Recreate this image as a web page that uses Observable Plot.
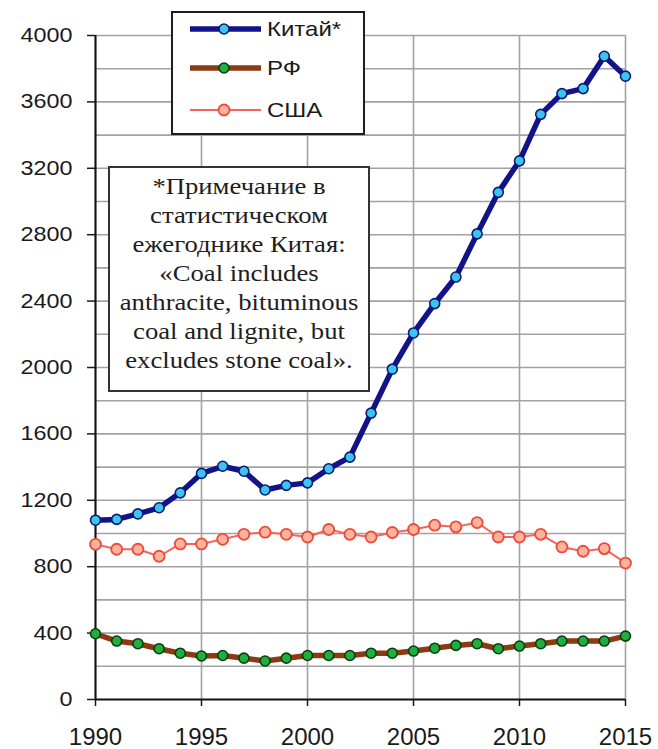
<!DOCTYPE html>
<html>
<head>
<meta charset="utf-8">
<script src="https://cdn.jsdelivr.net/npm/d3@7"></script>
<script src="https://cdn.jsdelivr.net/npm/@observablehq/plot@0.6"></script>
<style>
  body { margin: 0; background: #fff; }
  #wrap { position: relative; width: 658px; height: 749px; font-family: "Liberation Sans", Arial, sans-serif; }
  #legend { position: absolute; left: 171px; top: 11px; }
  #note {
    position: absolute; left: 108px; top: 166px; width: 262px; height: 226px;
    box-sizing: border-box; border: 2px solid #333; background: #fff;
    font-family: "Liberation Serif", "Times New Roman", serif; font-size: 23px; line-height: 29px;
    color: #1e1e1e; text-align: center; padding-top: 4px; overflow: visible;
  }
  #note .inner { white-space: nowrap; transform: scaleX(1.16); transform-origin: center; }
</style>
</head>
<body>
<div id="wrap"></div>
<script>
// ---- data ----
const years  = [1990,1991,1992,1993,1994,1995,1996,1997,1998,1999,2000,2001,2002,2003,2004,2005,2006,2007,2008,2009,2010,2011,2012,2013,2014,2015];
const china  = [1080,1085,1118,1155,1245,1362,1405,1375,1262,1290,1305,1390,1460,1725,1990,2208,2385,2545,2805,3055,3245,3525,3650,3680,3875,3755];
const russia = [396,352,336,306,279,262,265,249,232,249,265,265,265,279,279,292,309,326,336,306,322,336,352,352,352,382];
const usa    = [935,905,905,863,937,937,965,995,1008,995,979,1024,995,979,1006,1024,1050,1040,1066,979,979,995,919,893,909,822];
const seriesNames = ["Китай*", "РФ", "США"];
const yTicks = [0,400,800,1200,1600,2000,2400,2800,3200,3600,4000];
const yGrid  = [200,400,600,800,1000,1200,1400,1600,1800,2000,2200,2400,2600,2800,3000,3200,3400,3600,3800,4000];
const xTicks = [1990,1995,2000,2005,2010,2015];
const noteLines = ["*Примечание в","статистическом","ежегоднике Китая:","«Coal includes","anthracite, bituminous","coal and lignite, but","excludes stone coal»."];

// ---- styles ----
const styles = {
  "Китай*": {line: "#12128a", lw: 5.5, fill: "#3cc3ef", stroke: "#0b1a72", sw: 1.6, r: 5},
  "РФ":     {line: "#8c3a12", lw: 5.5, fill: "#1fae3f", stroke: "#0b3d12", sw: 1.6, r: 5},
  "США":    {line: "#f4645a", lw: 2,   fill: "#ffb29c", stroke: "#ee4a3c", sw: 1.8, r: 5.5}
};

const rows = (vals, name) => years.map((y, i) => ({year: y, value: vals[i], series: name}));
const chinaRows = rows(china, "Китай*");
const russiaRows = rows(russia, "РФ");
const usaRows = rows(usa, "США");

const lineMark = (data, name) => Plot.line(data, {x: "year", y: "value", stroke: styles[name].line, strokeWidth: styles[name].lw, strokeLinejoin: "round", curve: "linear"});
const dotMark = (data, name) => Plot.dot(data, {x: "year", y: "value", r: styles[name].r, fill: styles[name].fill, stroke: styles[name].stroke, strokeWidth: styles[name].sw});

const chart = Plot.plot({
  width: 658,
  height: 749,
  marginLeft: 95,
  marginRight: 33,
  marginTop: 35,
  marginBottom: 50,
  style: {fontFamily: "'Liberation Sans', Arial, sans-serif", background: "transparent", overflow: "visible"},
  x: {domain: [1990, 2015], label: null},
  y: {domain: [0, 4000], label: null},
  marks: [
    Plot.ruleY(yGrid, {stroke: "#a2a2a2", strokeWidth: 1.6}),
    Plot.ruleX(xTicks, {stroke: "#a2a2a2", strokeWidth: 1.6}),
    Plot.axisY(yTicks, {tickSize: 8, tickPadding: 15, fontSize: 20, tickFormat: d => String(d), color: "#1a1a1a", strokeWidth: 1.5}),
    Plot.axisX(xTicks, {tickSize: 7, tickPadding: 21, fontSize: 24, tickFormat: d => String(d), color: "#1a1a1a", strokeWidth: 1.5}),
    Plot.ruleX([1990], {stroke: "#111", strokeWidth: 2}),
    Plot.ruleY([0], {stroke: "#111", strokeWidth: 2}),
    lineMark(usaRows, "США"),
    lineMark(russiaRows, "РФ"),
    lineMark(chinaRows, "Китай*"),
    dotMark(usaRows, "США"),
    dotMark(russiaRows, "РФ"),
    dotMark(chinaRows, "Китай*")
  ]
});
document.getElementById("wrap").appendChild(chart);

// widen the y tick labels horizontally, like the reference
chart.querySelectorAll('g[aria-label="y-axis tick label"] text').forEach(t => {
  const tr = t.getAttribute("transform") || "";
  t.setAttribute("transform", tr + " scale(1.17,1)");
});

// ---- legend ----
const ns = "http://www.w3.org/2000/svg";
const lg = document.createElementNS(ns, "svg");
lg.setAttribute("id", "legend");
lg.setAttribute("width", 195);
lg.setAttribute("height", 125);
const rect = document.createElementNS(ns, "rect");
rect.setAttribute("x", 1); rect.setAttribute("y", 1);
rect.setAttribute("width", 192); rect.setAttribute("height", 122);
rect.setAttribute("fill", "#fff"); rect.setAttribute("stroke", "#1e1e1e"); rect.setAttribute("stroke-width", 2);
lg.appendChild(rect);
const rowY = [18, 57, 99];
seriesNames.forEach((name, i) => {
  const s = styles[name];
  const ln = document.createElementNS(ns, "line");
  ln.setAttribute("x1", 19); ln.setAttribute("x2", 90);
  ln.setAttribute("y1", rowY[i]); ln.setAttribute("y2", rowY[i]);
  ln.setAttribute("stroke", s.line); ln.setAttribute("stroke-width", s.lw);
  lg.appendChild(ln);
  const c = document.createElementNS(ns, "circle");
  c.setAttribute("cx", 53); c.setAttribute("cy", rowY[i]); c.setAttribute("r", s.r);
  c.setAttribute("fill", s.fill); c.setAttribute("stroke", s.stroke); c.setAttribute("stroke-width", s.sw);
  lg.appendChild(c);
  const t = document.createElementNS(ns, "text");
  t.setAttribute("transform", `translate(96,${rowY[i]}) scale(1.2,1)`);
  t.setAttribute("dy", "0.36em");
  t.setAttribute("font-size", 20);
  t.setAttribute("font-family", "'Liberation Sans', Arial, sans-serif");
  t.setAttribute("fill", "#1a1a1a");
  t.textContent = name;
  lg.appendChild(t);
});
document.getElementById("wrap").appendChild(lg);

// ---- note box ----
const note = document.createElement("div");
note.id = "note";
const inner = document.createElement("div");
inner.className = "inner";
noteLines.forEach((l, i) => {
  const d = document.createElement("div");
  d.textContent = l;
  inner.appendChild(d);
});
note.appendChild(inner);
document.getElementById("wrap").appendChild(note);
</script>
</body>
</html>
